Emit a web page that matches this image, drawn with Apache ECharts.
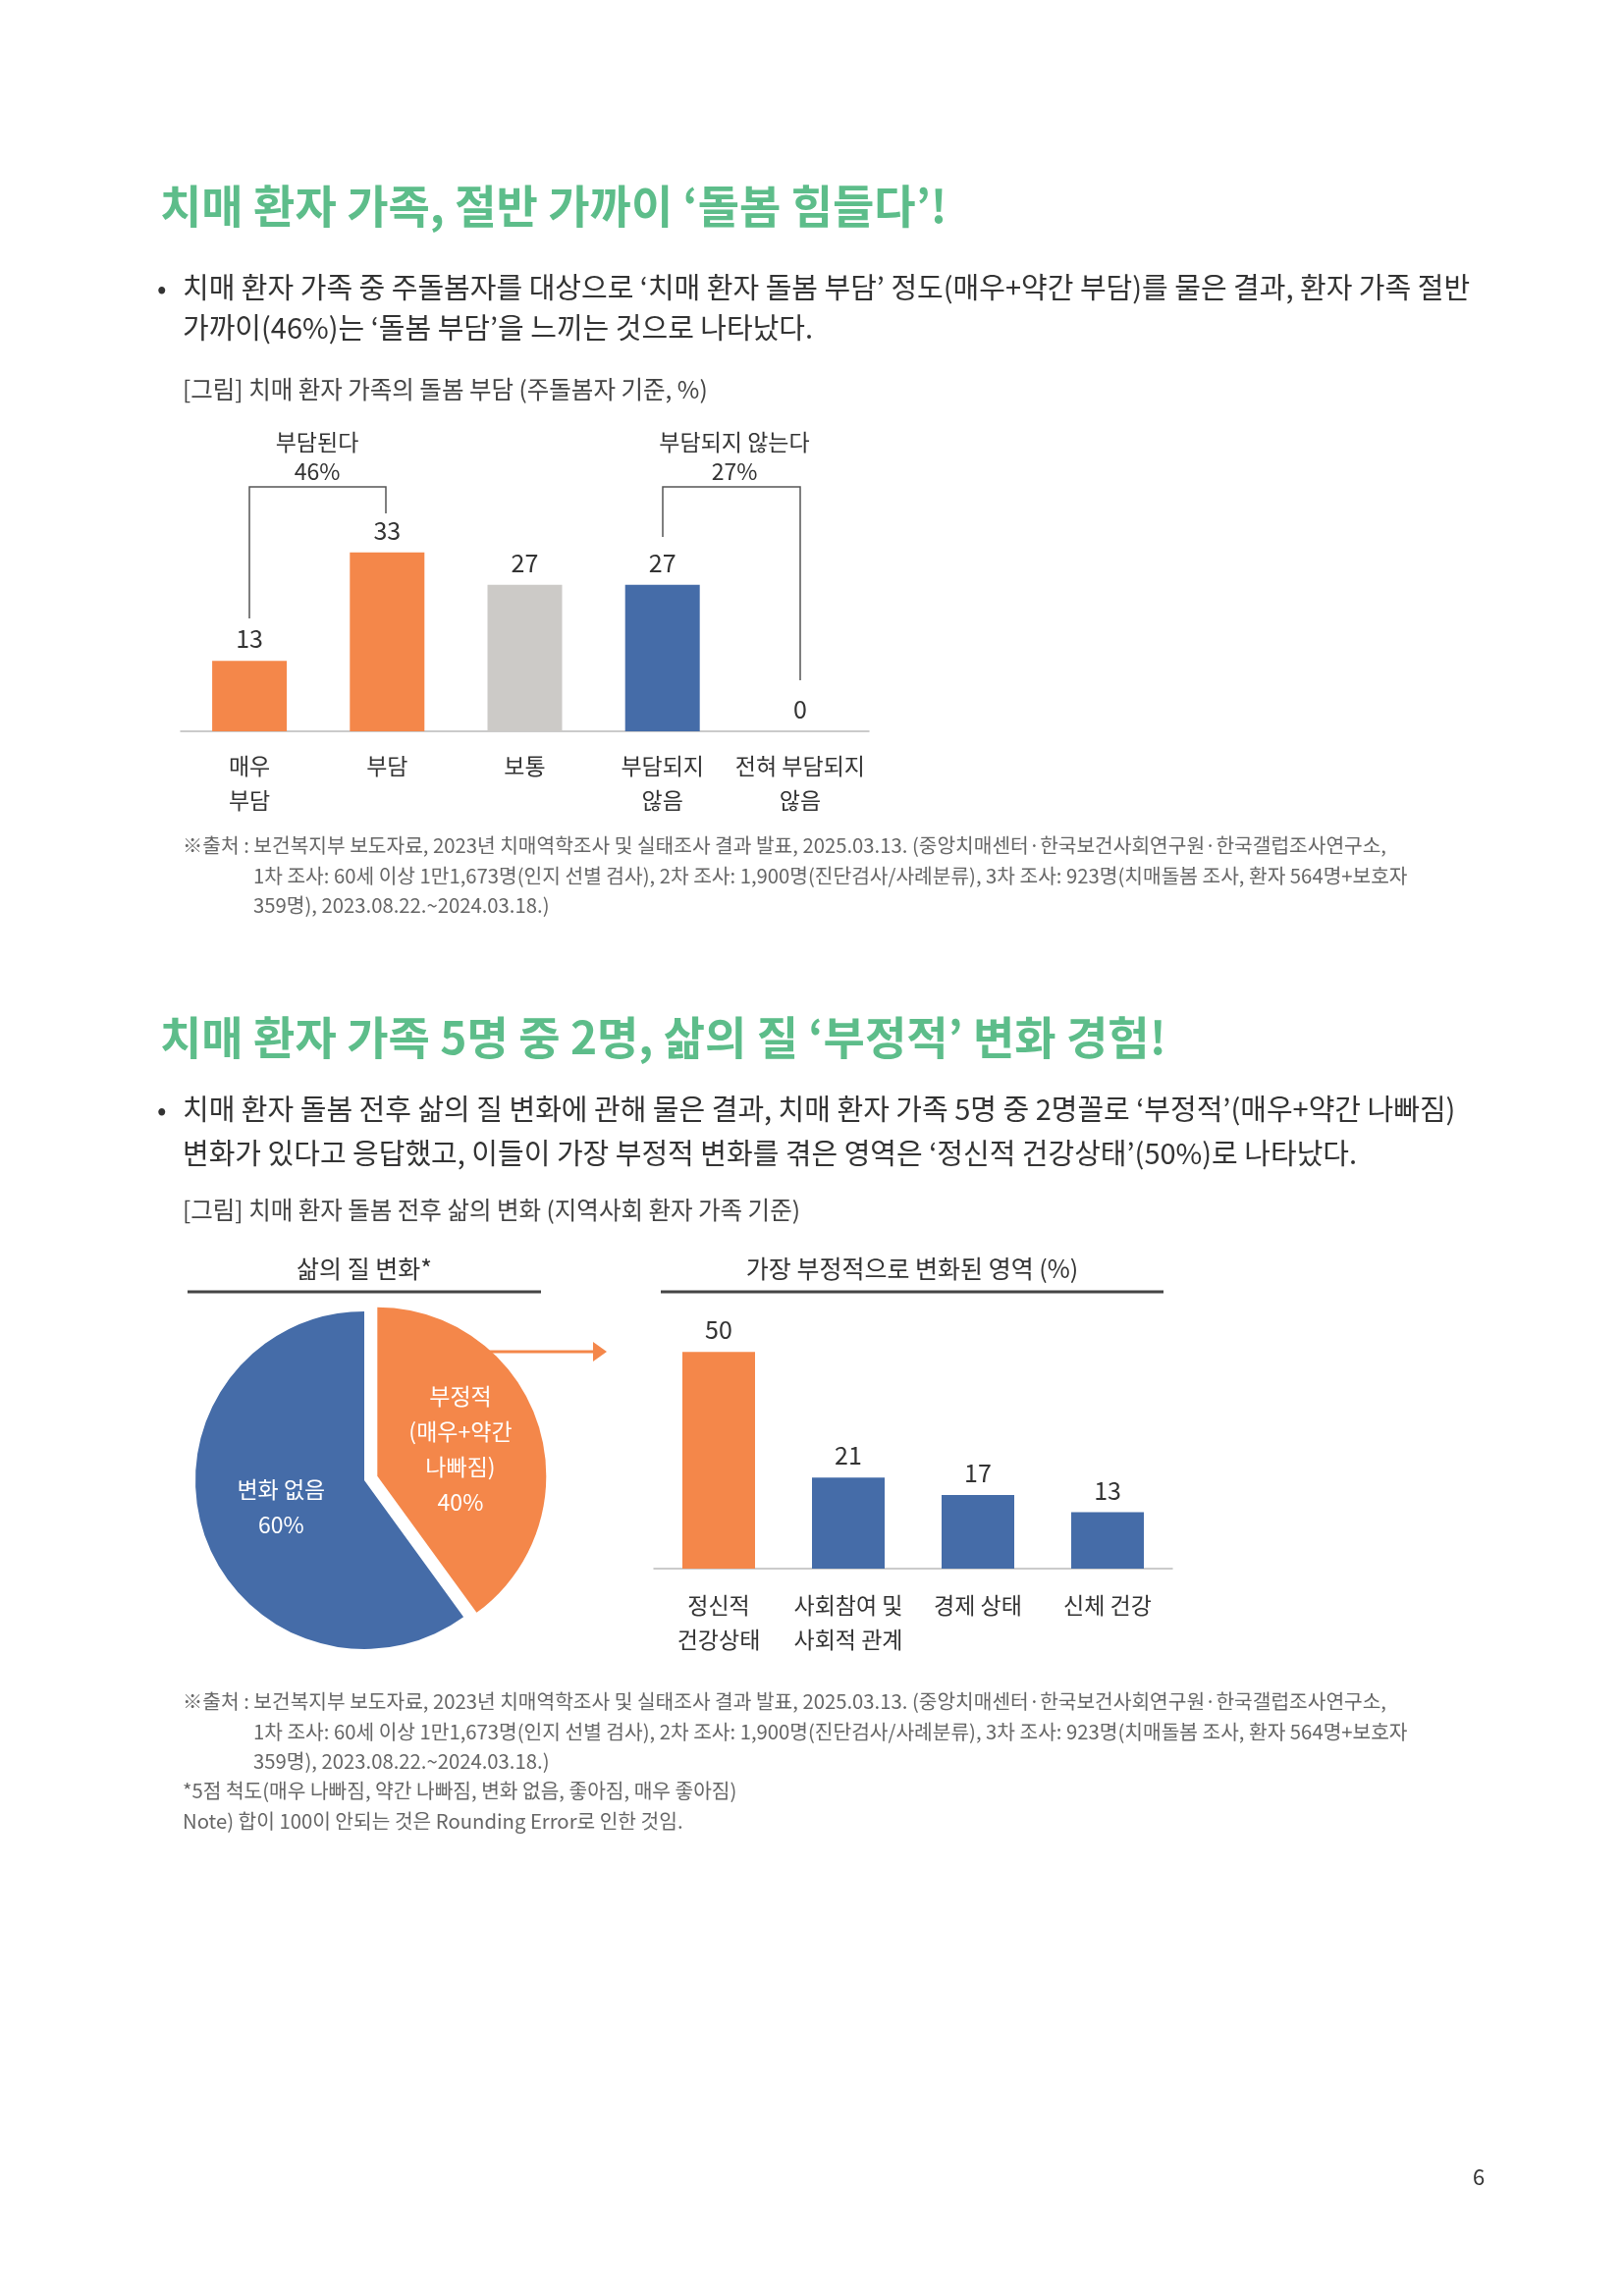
<!DOCTYPE html>
<html><head><meta charset="utf-8">
<script src="https://cdn.jsdelivr.net/npm/echarts@6/dist/echarts.min.js"></script>
<style>html,body{margin:0;padding:0;background:#fff}#c{width:1653px;height:2339px}</style>
</head><body><div id="c"></div>
<script>
const burdenCats = ['매우\n부담','부담','보통','부담되지\n않음','전혀 부담되지\n않음'];
const burdenVals = [13,33,27,27,0];
const burdenColors = ['#F4874A','#F4874A','#CCCAC7','#456CA8','#456CA8'];
const qolNames = ['부정적\n(매우+약간\n나빠짐)\n40%','변화 없음\n60%'];
const qolVals = [40,60];
const areaCats = ['정신적\n건강상태','사회참여 및\n사회적 관계','경제 상태','신체 건강'];
const areaVals = [50,21,17,13];
const areaColors = ['#F4874A','#456CA8','#456CA8','#456CA8'];

const F = '"Noto Sans CJK KR", "Noto Sans", sans-serif';
const chart = echarts.init(document.getElementById('c'));
function txt(x,y,t,size,color,opt){return Object.assign({type:'text',x:x,y:y,style:Object.assign({text:t,fontSize:size,fill:color,fontFamily:F,textVerticalAlign:'middle'},opt||{})});}
function line(pts,color,w){return {type:'polyline',shape:{points:pts},style:{stroke:color,lineWidth:w,fill:null}};}
const green='#5DBD8A', dark='#333', gray='#666';
const graphics = [
  txt(163,210,'치매 환자 가족, 절반 가까이 ‘돌봄 힘들다’!',46,green,{fontWeight:'bold'}),
  txt(160,293,'•',28,dark),
  txt(186,293,'치매 환자 가족 중 주돌봄자를 대상으로 ‘치매 환자 돌봄 부담’ 정도(매우+약간 부담)를 물은 결과, 환자 가족 절반',29,dark),
  txt(186,334,'가까이(46%)는 ‘돌봄 부담’을 느끼는 것으로 나타났다.',29,dark),
  txt(186,397,'[그림] 치매 환자 가족의 돌봄 부담 (주돌봄자 기준, %)',24.5,'#444'),
  txt(323,450,'부담된다',23,dark,{textAlign:'center'}),
  txt(323,480,'46%',23,dark,{textAlign:'center'}),
  txt(748,450,'부담되지 않는다',23,dark,{textAlign:'center'}),
  txt(748,480,'27%',23,dark,{textAlign:'center'}),
  line([[254,630],[254,496],[393,496],[393,523]],'#555',1.5),
  line([[675,547],[675,496],[815,496],[815,693]],'#555',1.5),
  txt(186,861,'※출처 : 보건복지부 보도자료, 2023년 치매역학조사 및 실태조사 결과 발표, 2025.03.13. (중앙치매센터·한국보건사회연구원·한국갤럽조사연구소,',20.3,gray),
  txt(258,892,'1차 조사: 60세 이상 1만1,673명(인지 선별 검사), 2차 조사: 1,900명(진단검사/사례분류), 3차 조사: 923명(치매돌봄 조사, 환자 564명+보호자',20.3,gray),
  txt(258,922,'359명), 2023.08.22.~2024.03.18.)',20.3,gray),

  txt(163,1057,'치매 환자 가족 5명 중 2명, 삶의 질 ‘부정적’ 변화 경험!',46,green,{fontWeight:'bold'}),
  txt(160,1130,'•',28,dark),
  txt(186,1130,'치매 환자 돌봄 전후 삶의 질 변화에 관해 물은 결과, 치매 환자 가족 5명 중 2명꼴로 ‘부정적’(매우+약간 나빠짐)',29,dark),
  txt(186,1175,'변화가 있다고 응답했고, 이들이 가장 부정적 변화를 겪은 영역은 ‘정신적 건강상태’(50%)로 나타났다.',29,dark),
  txt(186,1233,'[그림] 치매 환자 돌봄 전후 삶의 변화 (지역사회 환자 가족 기준)',24.5,'#444'),
  txt(371,1292,'삶의 질 변화*',25,dark,{textAlign:'center'}),
  txt(929,1292,'가장 부정적으로 변화된 영역 (%)',25,dark,{textAlign:'center'}),
  {type:'line',shape:{x1:191,y1:1316,x2:551,y2:1316},style:{stroke:'#444',lineWidth:3}},
  {type:'line',shape:{x1:673,y1:1316,x2:1185,y2:1316},style:{stroke:'#444',lineWidth:3}},
  {type:'line',shape:{x1:487,y1:1377,x2:606,y2:1377},style:{stroke:'#F4874A',lineWidth:3}},
  {type:'polygon',shape:{points:[[604,1367],[618,1377],[604,1387]]},style:{fill:'#F4874A'}},
  txt(186,1733,'※출처 : 보건복지부 보도자료, 2023년 치매역학조사 및 실태조사 결과 발표, 2025.03.13. (중앙치매센터·한국보건사회연구원·한국갤럽조사연구소,',20.3,gray),
  txt(258,1764,'1차 조사: 60세 이상 1만1,673명(인지 선별 검사), 2차 조사: 1,900명(진단검사/사례분류), 3차 조사: 923명(치매돌봄 조사, 환자 564명+보호자',20.3,gray),
  txt(258,1794,'359명), 2023.08.22.~2024.03.18.)',20.3,gray),
  txt(186,1824,'*5점 척도(매우 나빠짐, 약간 나빠짐, 변화 없음, 좋아짐, 매우 좋아짐)',20.3,gray),
  txt(186,1855,'Note) 합이 100이 안되는 것은 Rounding Error로 인한 것임.',20.3,gray),
  txt(1506,2218,'6',22,dark,{textAlign:'center'})
];

const catLabel = {fontSize:23,color:dark,fontFamily:F,lineHeight:35,margin:18,interval:0};
chart.setOption({
  animation:false,
  graphic:graphics,
  grid:[
    {left:184,width:701,top:524,height:221},
    {left:666,width:528,top:1333,height:265}
  ],
  xAxis:[
    {gridIndex:0,type:'category',data:burdenCats,axisTick:{show:false},axisLine:{lineStyle:{color:'#BBB',width:1.5}},axisLabel:catLabel},
    {gridIndex:1,type:'category',data:areaCats,axisTick:{show:false},axisLine:{lineStyle:{color:'#BBB',width:1.5}},axisLabel:Object.assign({},catLabel,{margin:20})}
  ],
  yAxis:[
    {gridIndex:0,type:'value',min:0,max:40,show:false},
    {gridIndex:1,type:'value',min:0,max:60,show:false}
  ],
  series:[
    {type:'bar',xAxisIndex:0,yAxisIndex:0,barWidth:76,
     data:burdenVals.map((v,i)=>({value:v,itemStyle:{color:burdenColors[i]}})),
     label:{show:true,position:'top',distance:10,fontSize:25,color:dark,fontFamily:F}},
    {type:'bar',xAxisIndex:1,yAxisIndex:1,barWidth:74,
     data:areaVals.map((v,i)=>({value:v,itemStyle:{color:areaColors[i]}})),
     label:{show:true,position:'top',distance:10,fontSize:25,color:dark,fontFamily:F}},
    {type:'pie',center:[371,1508],radius:172,startAngle:90,clockwise:true,selectedMode:'single',selectedOffset:14,
     data:[
       {value:qolVals[0],name:qolNames[0],selected:true,itemStyle:{color:'#F4874A'}},
       {value:qolVals[1],name:qolNames[1],itemStyle:{color:'#456CA8'}}
     ],
     label:{show:true,position:'inner',formatter:'{b}',fontSize:23,color:'#fff',fontFamily:F,lineHeight:36},
     labelLine:{show:false},emphasis:{disabled:true}}
  ]
});
</script></body></html>
